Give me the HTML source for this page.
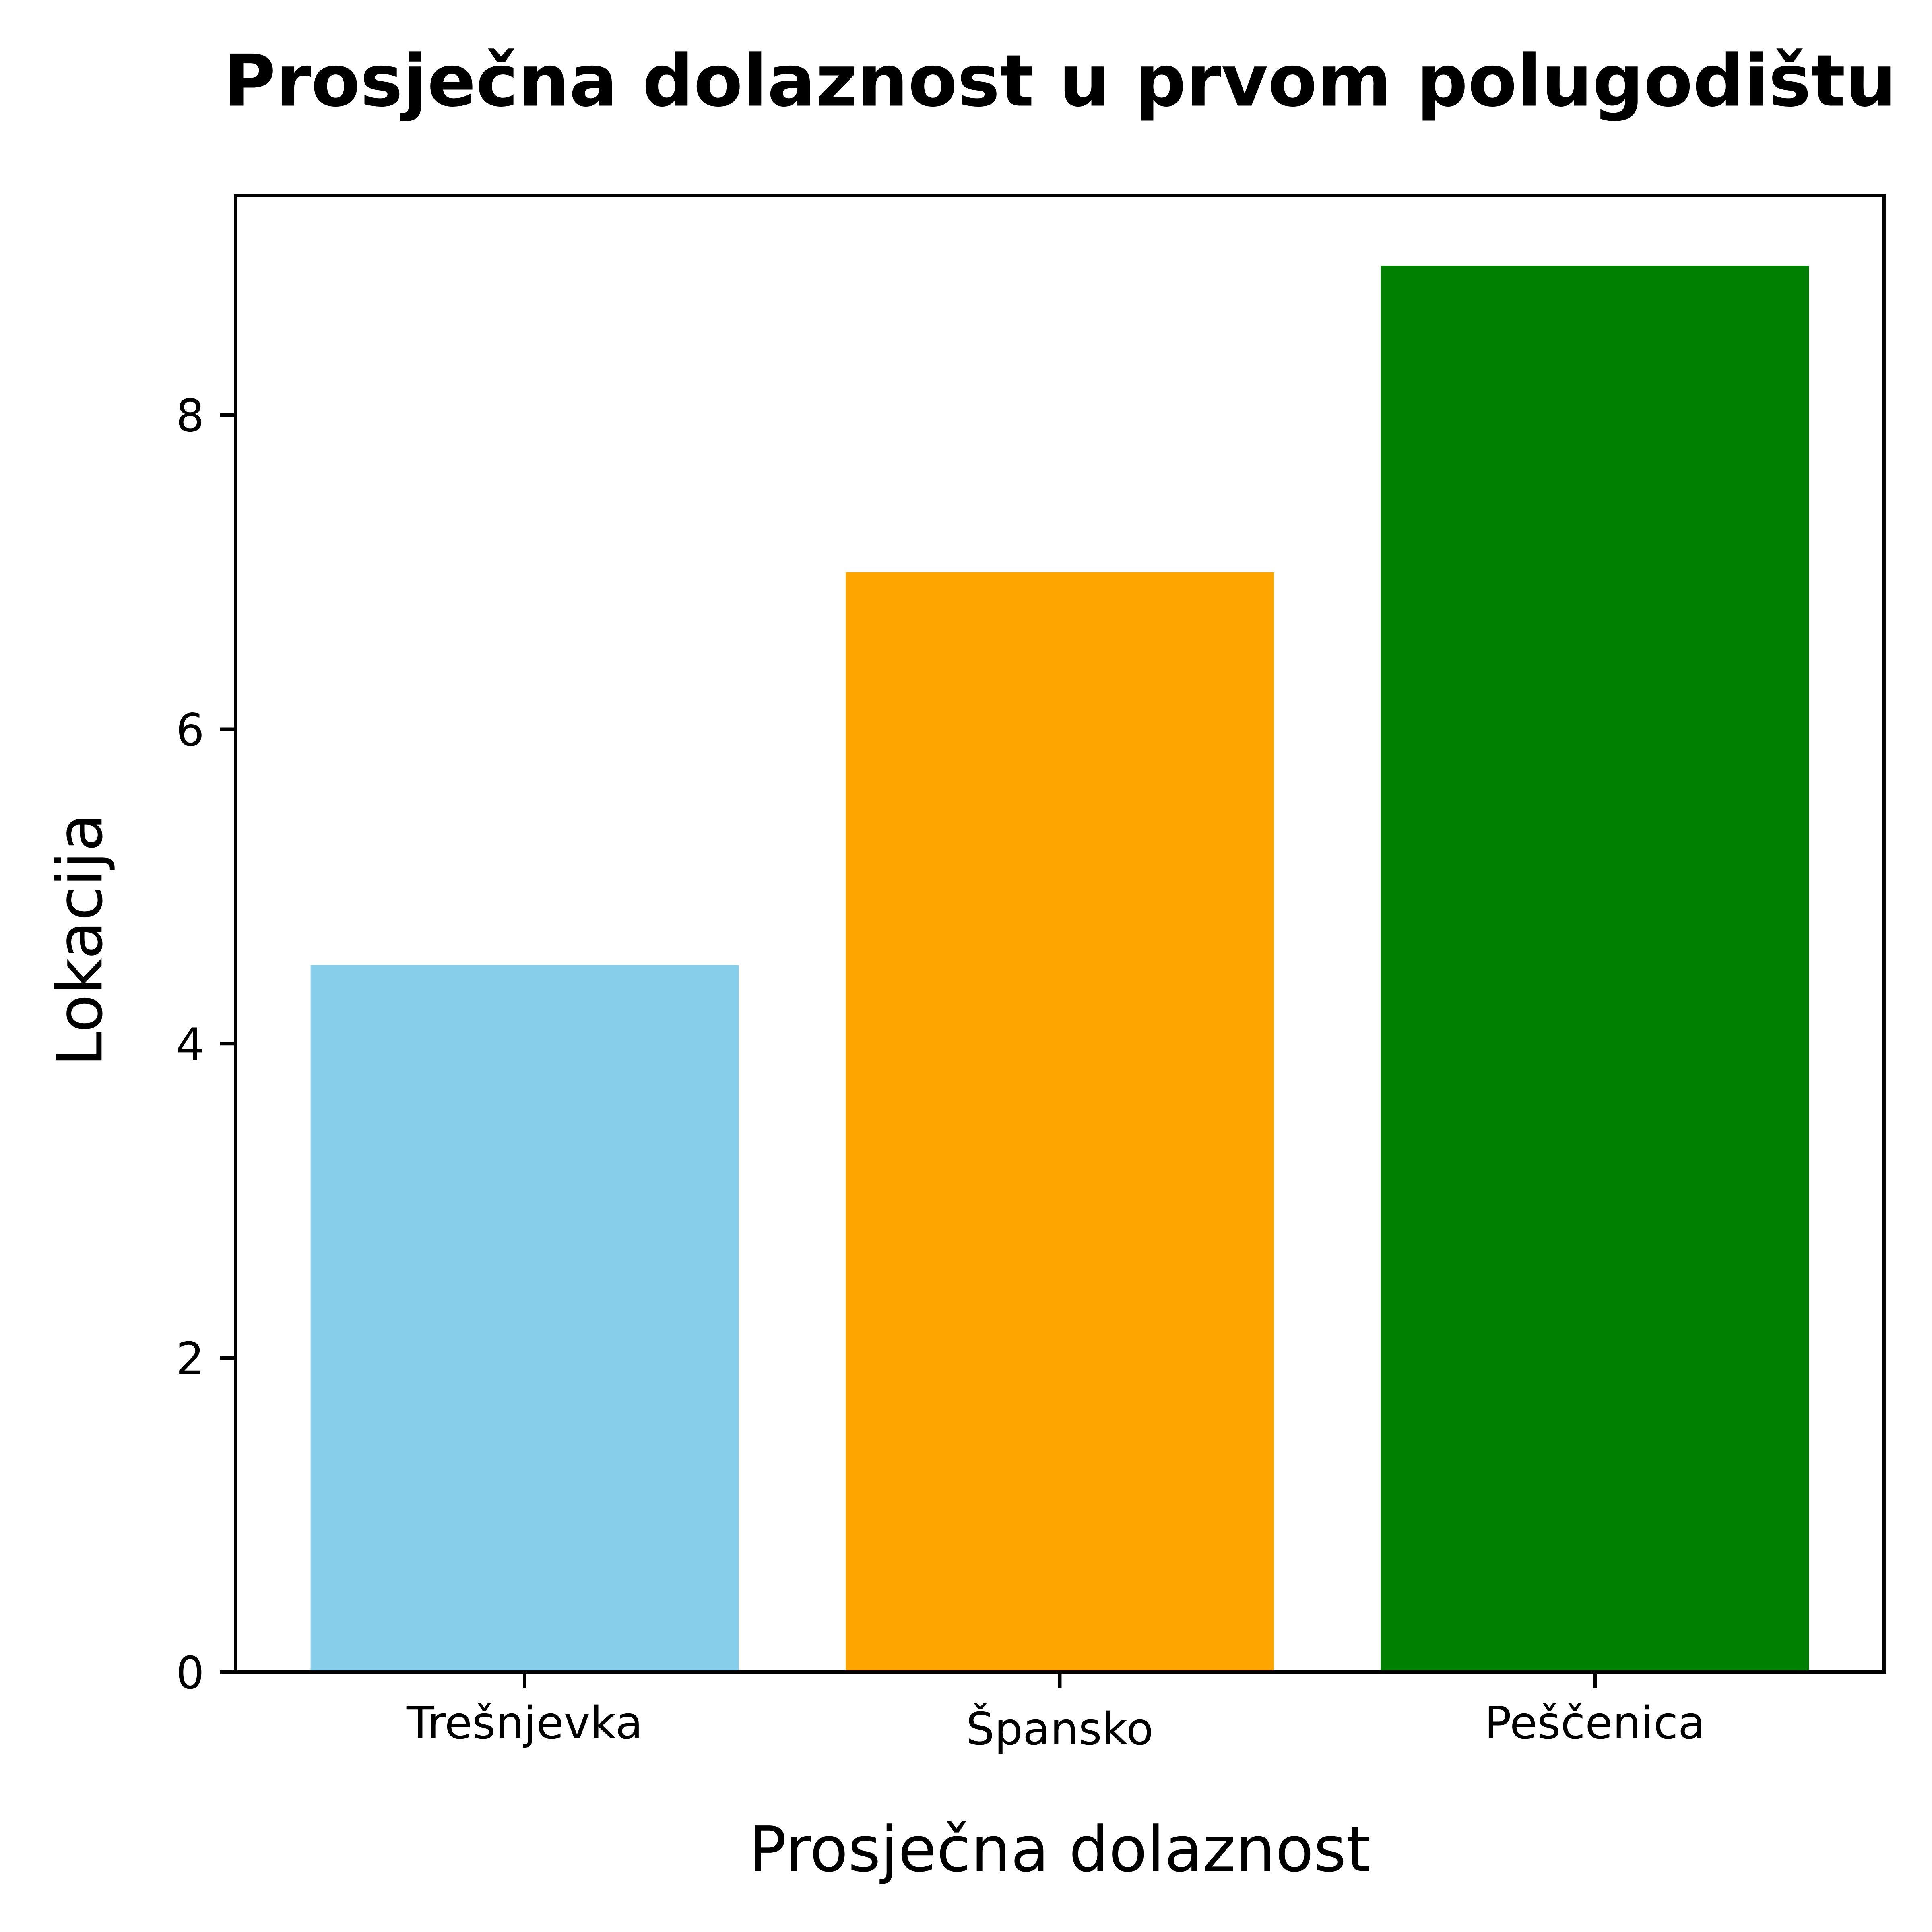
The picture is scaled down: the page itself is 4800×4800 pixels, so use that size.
<!DOCTYPE html>
<html lang="hr">
<head>
<meta charset="utf-8">
<title>Prosječna dolaznost u prvom polugodištu</title>
<style>
  html, body { margin: 0; padding: 0; background: #fff; }
  svg { display: block; }
  text { font-family: "DejaVu Sans", "Liberation Sans", sans-serif; fill: #000; text-rendering: geometricPrecision; }
</style>
</head>
<body>
<svg id="chart" xmlns="http://www.w3.org/2000/svg" width="4800" height="4800" viewBox="0 0 4800 4800">
  <rect x="0" y="0" width="4800" height="4800" fill="#ffffff"/>
  <g id="bars"></g>
  <g id="ticks"></g>
  <g id="spines" stroke="#000" stroke-width="8.89" stroke-linecap="square" fill="none">
    <line x1="585.5" y1="485.5" x2="585.5" y2="4154.5"/>
    <line x1="4680.5" y1="485.5" x2="4680.5" y2="4154.5"/>
    <line x1="585.5" y1="485.5" x2="4680.5" y2="485.5"/>
    <line x1="585.5" y1="4154.5" x2="4680.5" y2="4154.5"/>
  </g>
  <g id="labels"></g>
  <text x="2633" y="262.5" text-anchor="middle" font-size="177.78" font-weight="700">Prosječna dolaznost u prvom polugodištu</text>
  <text x="2633" y="4648.5" text-anchor="middle" font-size="155.56">Prosječna dolaznost</text>
  <text transform="translate(252.3 2335) rotate(-90)" text-anchor="middle" font-size="155.56">Lokacija</text>
</svg>
<script>
const categories = ['Trešnjevka', 'Špansko', 'Peščenica'];
const attendance = [4.5, 7.0, 8.95];
const barColors = ['#87CEEB', '#FFA500', '#008000'];
const yTickValues = [0, 2, 4, 6, 8];

const SVG_NS = 'http://www.w3.org/2000/svg';
const plot = { left: 585.5, right: 4680.5, top: 485.5, bottom: 4154.5 };
const barWidth = 0.8;
const tickLength = 38.89;
const tickPad = 38.89;
const tickStroke = 8.89;
const tickFontSize = 111.11;
const xLabelTop = 4231;

const xMin = -barWidth / 2 - 0.05 * (categories.length - 1 + barWidth);
const xMax = categories.length - 1 + barWidth / 2 + 0.05 * (categories.length - 1 + barWidth);
const yMax = Math.max.apply(null, attendance) * 1.05;

function xScale(v) {
  return plot.left + (v - xMin) / (xMax - xMin) * (plot.right - plot.left);
}
function yScale(v) {
  return plot.bottom - v / yMax * (plot.bottom - plot.top);
}
function make(tag, attrs) {
  const el = document.createElementNS(SVG_NS, tag);
  Object.keys(attrs).forEach(function (k) { el.setAttribute(k, attrs[k]); });
  return el;
}
const measureCtx = document.createElement('canvas').getContext('2d');
measureCtx.font = tickFontSize + 'px "DejaVu Sans", sans-serif';
function inkAscent(label) {
  return measureCtx.measureText(label).actualBoundingBoxAscent;
}

const barsGroup = document.getElementById('bars');
const ticksGroup = document.getElementById('ticks');
const labelsGroup = document.getElementById('labels');

attendance.forEach(function (value, i) {
  const x0 = xScale(i - barWidth / 2);
  const x1 = xScale(i + barWidth / 2);
  const yTop = yScale(value);
  const bar = make('rect', { x: x0, y: yTop, width: x1 - x0, height: yScale(0) - yTop, fill: barColors[i] });
  
  
  barsGroup.appendChild(bar);
});

categories.forEach(function (label, i) {
  const cx = xScale(i);
  const tick = make('line', { x1: cx, x2: cx, y1: plot.bottom, y2: plot.bottom + tickLength, stroke: '#000', 'stroke-width': tickStroke });
  
  
  ticksGroup.appendChild(tick);
  const text = make('text', { x: cx, y: xLabelTop + inkAscent(label), 'text-anchor': 'middle', 'font-size': tickFontSize });
  text.textContent = label;
  
  
  labelsGroup.appendChild(text);
});

yTickValues.forEach(function (value) {
  const cy = yScale(value);
  const tick = make('line', { x1: plot.left - tickLength, x2: plot.left, y1: cy, y2: cy, stroke: '#000', 'stroke-width': tickStroke });
  
  
  ticksGroup.appendChild(tick);
  const text = make('text', { x: plot.left - tickLength - tickPad, y: cy + 40.5, 'text-anchor': 'end', 'font-size': tickFontSize });
  text.textContent = String(value);
  
  
  labelsGroup.appendChild(text);
});
</script>
</body>
</html>
